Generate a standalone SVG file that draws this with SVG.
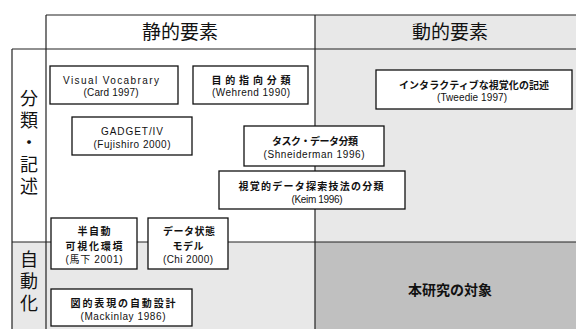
<svg xmlns="http://www.w3.org/2000/svg" width="576" height="329" viewBox="0 0 576 329">
<style>
.bg{fill:#ffffff}
.lt{fill:#e8e8e8}
.dk{fill:#c0c0c0}
.ln{stroke:#222;stroke-width:1.2;fill:none}
.box{fill:#ffffff;stroke:#111;stroke-width:1.3}
.t{font-family:"Liberation Sans","Noto Sans CJK JP",sans-serif;font-size:10px;fill:#111;text-anchor:middle}
.j{font-family:"Noto Sans CJK JP",sans-serif;font-size:10px;font-weight:bold;fill:#111;text-anchor:middle}
.h{font-family:"Noto Sans CJK JP",sans-serif;font-size:19px;fill:#111;text-anchor:middle}
.r{font-family:"Noto Sans CJK JP",sans-serif;font-size:18px;fill:#111;writing-mode:vertical-rl;letter-spacing:4px}
</style>
<rect class="bg" x="0" y="0" width="576" height="329"/>
<g id="grid">
<rect class="lt" x="315" y="15" width="261" height="227"/>
<rect class="lt" x="12" y="242" width="303" height="87"/>
<rect class="dk" x="315" y="242" width="261" height="87"/>
<line class="ln" x1="46" y1="15" x2="576" y2="15"/>
<line class="ln" x1="46" y1="15" x2="46" y2="329"/>
<line class="ln" x1="12" y1="49" x2="576" y2="49"/>
<line class="ln" x1="12" y1="49" x2="12" y2="329"/>
<line class="ln" x1="12" y1="242" x2="576" y2="242"/>
<line class="ln" x1="315" y1="15" x2="315" y2="329"/>
</g>
<g id="headers">
<text class="h" x="180" y="39">静的要素</text>
<text class="h" x="450" y="39">動的要素</text>
</g>
<g id="row-labels">
<text class="r" x="29" y="89">分類・記述</text>
<text class="r" x="29" y="250">自動化</text>
</g>
<g id="node-card">
<rect class="box" x="50" y="66" width="128" height="38"/>
<text class="t" x="111" y="84" textLength="96">Visual Vocabrary</text>
<text class="t" x="111" y="96" textLength="55">(Card 1997)</text>
</g>
<g id="node-wehrend">
<rect class="box" x="193" y="66" width="115" height="38"/>
<text class="j" x="251" y="84" textLength="79">目的指向分類</text>
<text class="t" x="251" y="96" textLength="78">(Wehrend 1990)</text>
</g>
<g id="node-tweedie">
<rect class="box" x="376" y="70" width="196" height="39"/>
<text class="j" x="474" y="89" textLength="150">インタラクティブな視覚化の記述</text>
<text class="t" x="472" y="101" textLength="70">(Tweedie 1997)</text>
</g>
<g id="node-fujishiro">
<rect class="box" x="72" y="117" width="120" height="38"/>
<text class="t" x="132" y="135" textLength="62">GADGET/IV</text>
<text class="t" x="132" y="148" textLength="77">(Fujishiro 2000)</text>
</g>
<g id="node-shneiderman">
<rect class="box" x="244" y="126" width="140" height="40"/>
<text class="j" x="315" y="145" textLength="86">タスク・データ分類</text>
<text class="t" x="314" y="158" textLength="101">(Shneiderman 1996)</text>
</g>
<g id="node-keim">
<rect class="box" x="219" y="171" width="186" height="38"/>
<text class="j" x="311" y="190" textLength="145">視覚的データ探索技法の分類</text>
<text class="t" x="317" y="203" textLength="51">(Keim 1996)</text>
</g>
<g id="node-mashita">
<rect class="box" x="51" y="218" width="86" height="51"/>
<text class="j" x="94" y="235" textLength="33">半自動</text>
<text class="j" x="94" y="250" textLength="57">可視化環境</text>
<text class="t" x="94" y="263" textLength="57">(馬下 2001)</text>
</g>
<g id="node-chi">
<rect class="box" x="148" y="218" width="80" height="51"/>
<text class="j" x="189" y="235" textLength="52">データ状態</text>
<text class="j" x="188" y="250" textLength="31">モデル</text>
<text class="t" x="188" y="263" textLength="50">(Chi 2000)</text>
</g>
<g id="node-mackinlay">
<rect class="box" x="51" y="289" width="141" height="37"/>
<text class="j" x="123" y="307" textLength="105">図的表現の自動設計</text>
<text class="t" x="123" y="320" textLength="85">(Mackinlay 1986)</text>
</g>
<g id="target">
<text class="j" x="450" y="295" style="font-size:14px">本研究の対象</text>
</g>
<g id="connectors"></g>
</svg>
